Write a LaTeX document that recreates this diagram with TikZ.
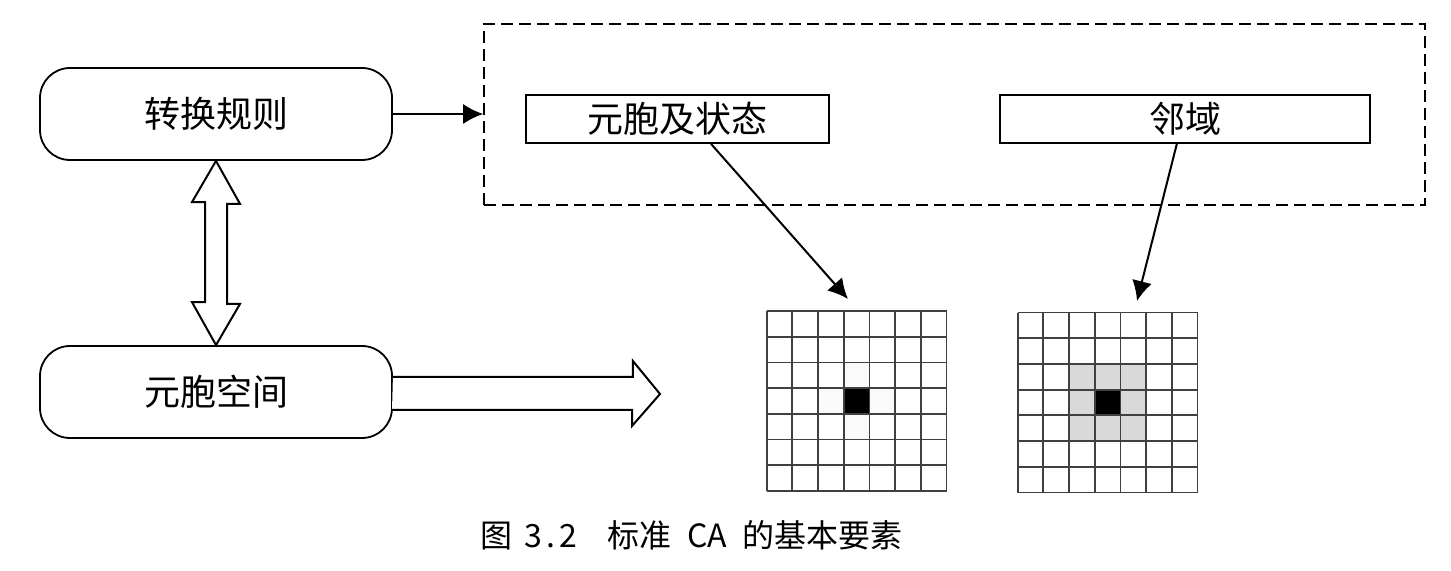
\documentclass[tikz,border=0pt]{standalone}
\usepackage{fontspec}
\newfontfamily\cjk{Noto Sans CJK SC}
\newcommand{\boxtext}[1]{{\cjk\fontsize{18}{20}\selectfont #1}}
\newcommand{\cagrid}[1]{%
  \foreach \k in {0,...,7}{%
    \draw[gridline] ($(#1.north west)+(\k*25.7,0)$) -- ++(0,180);
    \draw[gridline] ($(#1.north west)+(0,\k*25.7)$) -- ++(180,0);}}
\newcommand{\cafill}[4]{\fill[#4] ($(#1.north west)+(#2*25.7,#3*25.7)$) rectangle ++(25.7,25.7);}
\usetikzlibrary{calc,arrows.meta}
\tikzset{
  gridline/.style={line width=0.9pt, black!75},
  block/.style={line width=1pt, fill=white, line join=miter},
  link/.style={-{Latex[length=10pt,width=10pt]}, line width=1pt},
}

\begin{document}
\begin{tikzpicture}[x=0.5pt,y=-0.5pt]
    \useasboundingbox (0,0) rectangle (1451,571);
    \node(rule)[draw,line width=0.9pt,rounded corners=15pt,minimum width=176pt,minimum height=46pt] at (216,114) {\boxtext{转换规则}};
    \node(space)[draw,line width=0.9pt,rounded corners=15pt,minimum width=176pt,minimum height=46pt] at (216,392) {\boxtext{元胞空间}};
    \node(frame)[draw,dashed,dash pattern=on 6pt off 3pt,line width=0.8pt,minimum width=470.5pt,minimum height=90.5pt] at (954.5,114.5) {};
    \node(cell)[draw,line width=0.9pt,minimum width=151.5pt,minimum height=24pt] at (677.5,119) {\boxtext{元胞及状态}};
    \node(nbr)[draw,line width=0.9pt,minimum width=185pt,minimum height=24pt] at (1185,119) {\boxtext{邻域}};
    \node(g1)[minimum width=90pt,minimum height=90pt,inner sep=0] at (857,401.5) {};
    \node(g2)[minimum width=90pt,minimum height=90pt,inner sep=0] at (1108,403) {};
    \node(cap)[anchor=west,inner sep=0] at (480,535) {{\cjk\fontsize{16}{18}\selectfont 图\hspace{6pt}\makebox[26.5pt][s]{3\hfill.\hfill2}\hspace{15pt}标准\hspace{8pt}\makebox[19.5pt][s]{C\hfill A}\hspace{8pt}的基本要素}};
    \coordinate(t1) at (848,299);
    \coordinate(t2) at (1137,301);
    \coordinate(sp) at (660,394);

    % cells
    \foreach \a/\b in {3/2,2/3,4/3,3/4} {\cafill{g1}{\a}{\b}{black!2}}
    \foreach \a in {2,3,4} {\foreach \b in {2,3,4} {\cafill{g2}{\a}{\b}{black!15}}}
    \cafill{g1}{3}{3}{black}
    \cafill{g2}{3}{3}{black}
    \cagrid{g1}
    \cagrid{g2}

    \draw[link] (rule.east)--(rule.east-|frame.west);
    \draw[link] ($(cell.south west)!0.61!(cell.south east)$)--(t1);
    \draw[link] ($(nbr.south west)!0.478!(nbr.south east)$)--(t2);
    \draw[block] (rule.south) -- ++(24,43) -- ++(-13,0) -- ++(0,100) -- ++(13,0) -- (space.north)
        -- ++(-24,-43) -- ++(13,0) -- ++(0,-100) -- ++(-13,0) -- cycle;
    \draw[block] ($(space.east)+(0,-15)$) -- ++(240,0) -- ++(0,-16) -- (sp) -- ++(-28,32) -- ++(0,-16) -- ++(-240,0);
\end{tikzpicture}
\end{document}
